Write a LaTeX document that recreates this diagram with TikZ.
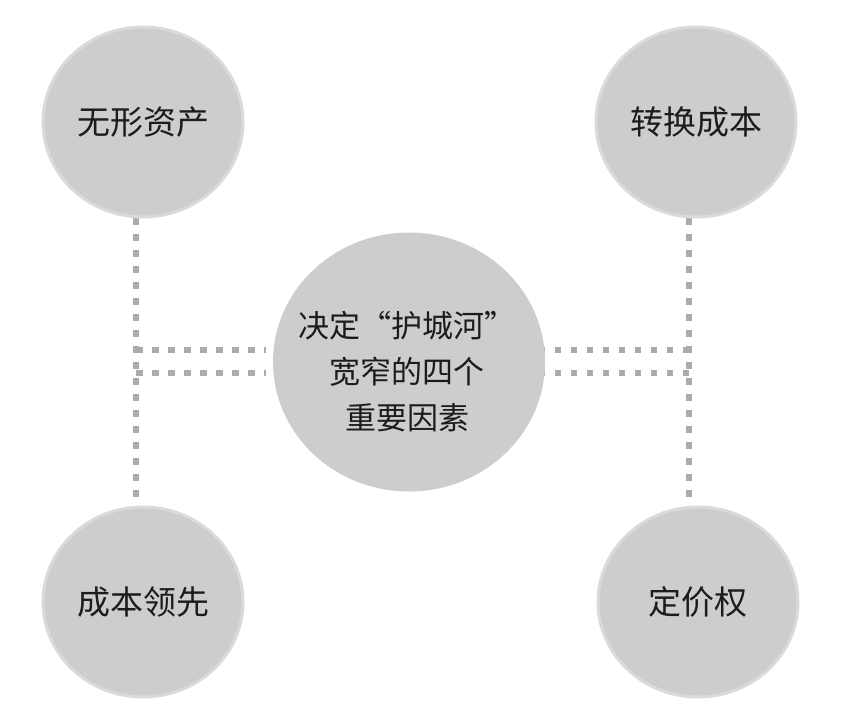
\documentclass[tikz,border=0pt]{standalone}
\usepackage{fontspec}
\newfontfamily\cjk{Noto Sans CJK SC}
\usetikzlibrary{shapes.geometric}

\definecolor{discfill}{HTML}{CECCCF}
\definecolor{discrim}{HTML}{DADADA}
\definecolor{dotgray}{HTML}{ABABAB}
\definecolor{inkblack}{HTML}{1C1C1C}

\tikzset{
  factor/.style={ellipse, fill=discfill, draw=discrim, line width=3pt, inner sep=0pt,
    minimum width=200pt, minimum height=190pt, text=inkblack,
    font=\cjk\fontsize{33}{40}\selectfont},
  hub/.style={ellipse, fill=discfill, inner sep=0pt, minimum width=272pt, minimum height=259pt},
  hubtext/.style={text=inkblack, align=center, font=\cjk\fontsize{31}{46}\selectfont},
  dotline/.style={draw=dotgray, line width=6.5pt, dash pattern=on 6.5pt off 9.5pt},
}

\begin{document}
\begin{tikzpicture}[x=1pt, y=-1pt]
\useasboundingbox (0,0) rectangle (853,724);

% links behind the discs
\coordinate (lt) at (136,218);
\coordinate (lb) at (136,508);
\coordinate (rt) at (689,218);
\coordinate (rb) at (689,508);
\draw[dotline] (lt) -- (lb);
\draw[dotline] (rt) -- (rb);
\draw[dotline] (lt |- 0,350) -- (266,350);
\draw[dotline] (lt |- 0,373) -- (266,373);
\draw[dotline] (rt |- 0,350) -- (540,350);
\draw[dotline] (rt |- 0,373) -- (540,373);

\node[hub] (moat) at (409,362) {};
\node[hubtext] (moatlabel) at (407,372) {决定“护城河”\\宽窄的四个\\重要因素};

\node[factor] (intangible) at (143,122) {无形资产};
\node[factor] (switching) at (696,122) {转换成本};
\node[factor] (cost) at (143,602) {成本领先};
\node[factor] (pricing) at (698,602) {定价权};
\end{tikzpicture}
\end{document}
